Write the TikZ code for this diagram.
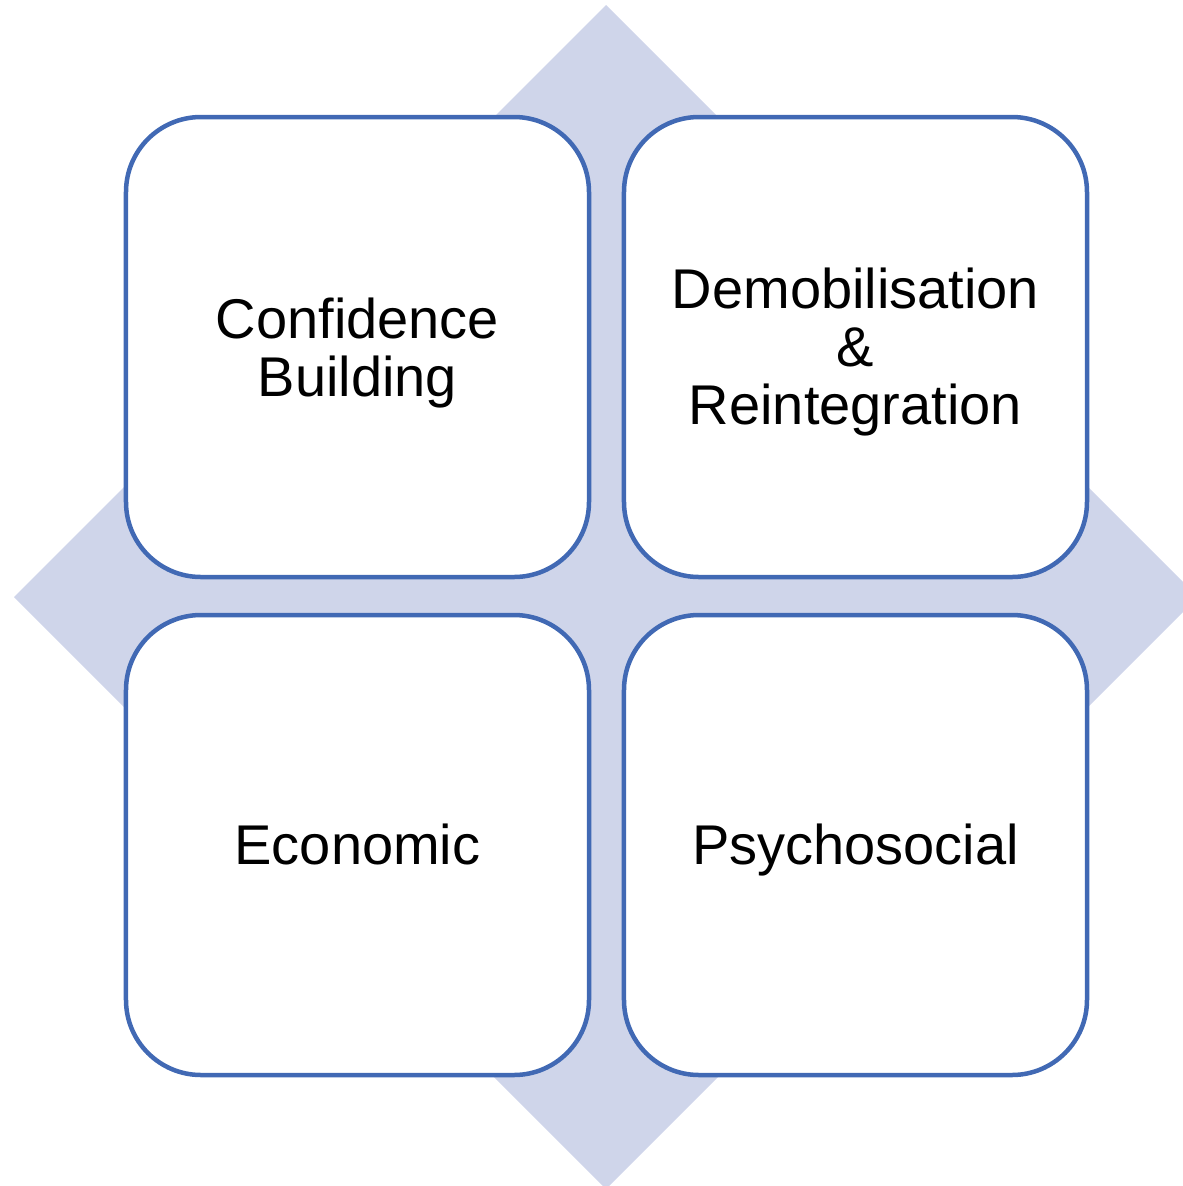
\documentclass[tikz,border=0pt]{standalone}
\usepackage{fontspec}
\setmainfont{Liberation Sans}
\definecolor{boxline}{RGB}{65,105,180}
\definecolor{diamondfill}{RGB}{207,213,234}
\tikzset{
    pillar/.style = {draw=boxline, line width=4.5pt, fill=white, rounded corners=75pt,
        minimum width=463pt, minimum height=460pt, outer sep=0pt, align=center,
        text height=50pt, text depth=12pt, font=\fontsize{56}{58}\selectfont}
}
\begin{document}
\begin{tikzpicture}[x=1pt, y=-1pt]
            \useasboundingbox (0,0) rectangle (1183,1186);
            % background diamond
            \fill[diamondfill] (606,5) -- (1198,597) -- (606,1189) -- (14,597) -- cycle;
            \matrix (grid) [column sep=30.5pt, row sep=33.5pt] at (606.5,596) {
                \node[pillar, text height=110pt] (confidence) {Confidence\\Building}; &
                \node[pillar, text height=166pt] (demob) {Demobilisation\\\&\\Reintegration}; \\
                \node[pillar] (economic) {Economic}; &
                \node[pillar] (psycho) {Psychosocial}; \\
            };
        \end{tikzpicture}
\end{document}
